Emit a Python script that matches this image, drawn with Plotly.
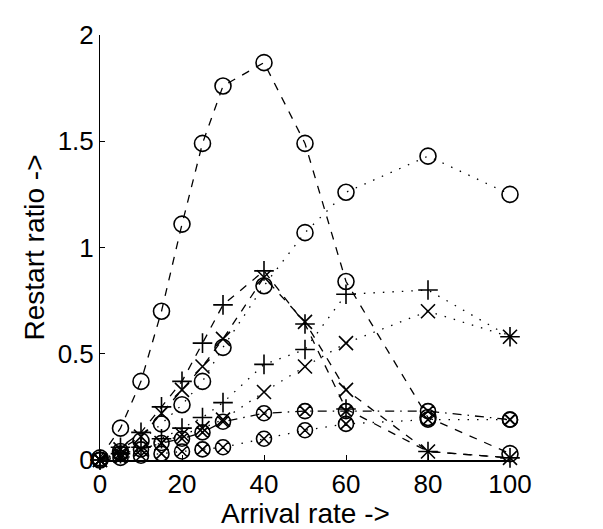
import plotly.graph_objects as go

arrival = [0, 5, 10, 15, 20, 25, 30, 40, 50, 60, 80, 100]

dashed_o = [0.01, 0.15, 0.37, 0.70, 1.11, 1.49, 1.76, 1.87, 1.49, 0.84, 0.20, 0.03]
dotted_o = [0.00, 0.04, 0.09, 0.17, 0.26, 0.37, 0.53, 0.82, 1.07, 1.26, 1.43, 1.25]
dashed_plus = [0.00, 0.06, 0.13, 0.25, 0.37, 0.55, 0.73, 0.89, 0.64, 0.24, 0.04, 0.01]
dashed_x = [0.00, 0.05, 0.11, 0.22, 0.33, 0.44, 0.57, 0.86, 0.65, 0.33, 0.04, 0.01]
dotted_plus = [0.00, 0.03, 0.06, 0.10, 0.15, 0.20, 0.27, 0.45, 0.52, 0.78, 0.80, 0.58]
dotted_x = [0.00, 0.02, 0.05, 0.08, 0.12, 0.15, 0.19, 0.32, 0.44, 0.55, 0.70, 0.58]
dashdot_ox = [0.00, 0.03, 0.05, 0.08, 0.10, 0.13, 0.18, 0.22, 0.23, 0.23, 0.23, 0.19]
dotted_ox = [0.00, 0.01, 0.02, 0.03, 0.04, 0.05, 0.06, 0.10, 0.14, 0.17, 0.19, 0.19]

x_ticks = [0, 20, 40, 60, 80, 100]
y_ticks = [0, 0.5, 1, 1.5, 2]
y_tick_text = ["0", "0.5", "1", "1.5", "2"]
x_title = "Arrival rate ->"
y_title = "Restart ratio ->"

DASH = "8px,8px"
DOT = "1.5px,8px"
DASHDOT = "9px,6px,1.5px,6px"

series = [
    (dashed_o, DASH, "circle-open", 16),
    (dotted_o, DOT, "circle-open", 16),
    (dashed_plus, DASH, "cross-thin-open", 14),
    (dashed_x, DASH, "x-thin-open", 14),
    (dotted_plus, DOT, "cross-thin-open", 14),
    (dotted_x, DOT, "x-thin-open", 14),
    (dashdot_ox, DASHDOT, "circle-x-open", 15),
    (dotted_ox, DOT, "circle-x-open", 15),
]

fig = go.Figure()
for ys, dash, sym, sz in series:
    fig.add_trace(go.Scatter(
        x=arrival, y=ys, mode="lines+markers",
        line=dict(color="black", width=1.3, dash=dash),
        marker=dict(symbol=sym, size=sz, color="black",
                    line=dict(color="black", width=1.6)),
        cliponaxis=False, showlegend=False,
    ))

font = dict(family="Liberation Sans, Arial, sans-serif", size=26, color="black")
title_font = dict(family="Liberation Sans, Arial, sans-serif", size=28, color="black")

fig.update_layout(
    width=603, height=529,
    margin=dict(l=92, r=101, t=17, b=77),
    paper_bgcolor="white", plot_bgcolor="white",
    font=font,
    xaxis=dict(
        range=[0, 100], tickvals=x_ticks, ticks="inside", ticklen=5,
        tickcolor="black", showgrid=False, zeroline=False,
        showline=True, linecolor="black", linewidth=2,
        tickfont=font,
    ),
    yaxis=dict(
        range=[0, 2], tickvals=y_ticks, ticktext=y_tick_text,
        ticks="inside", ticklen=5, tickcolor="black",
        showgrid=False, zeroline=False,
        showline=True, linecolor="black", linewidth=1,
        tickfont=font,
        title=dict(text=y_title, font=title_font, standoff=4),
    ),
    annotations=[dict(
        text=x_title, xref="paper", yref="paper", x=0.5, y=-0.127,
        xanchor="center", yanchor="middle", showarrow=False, font=title_font,
    )],
)

fig.write_html("out.html")
